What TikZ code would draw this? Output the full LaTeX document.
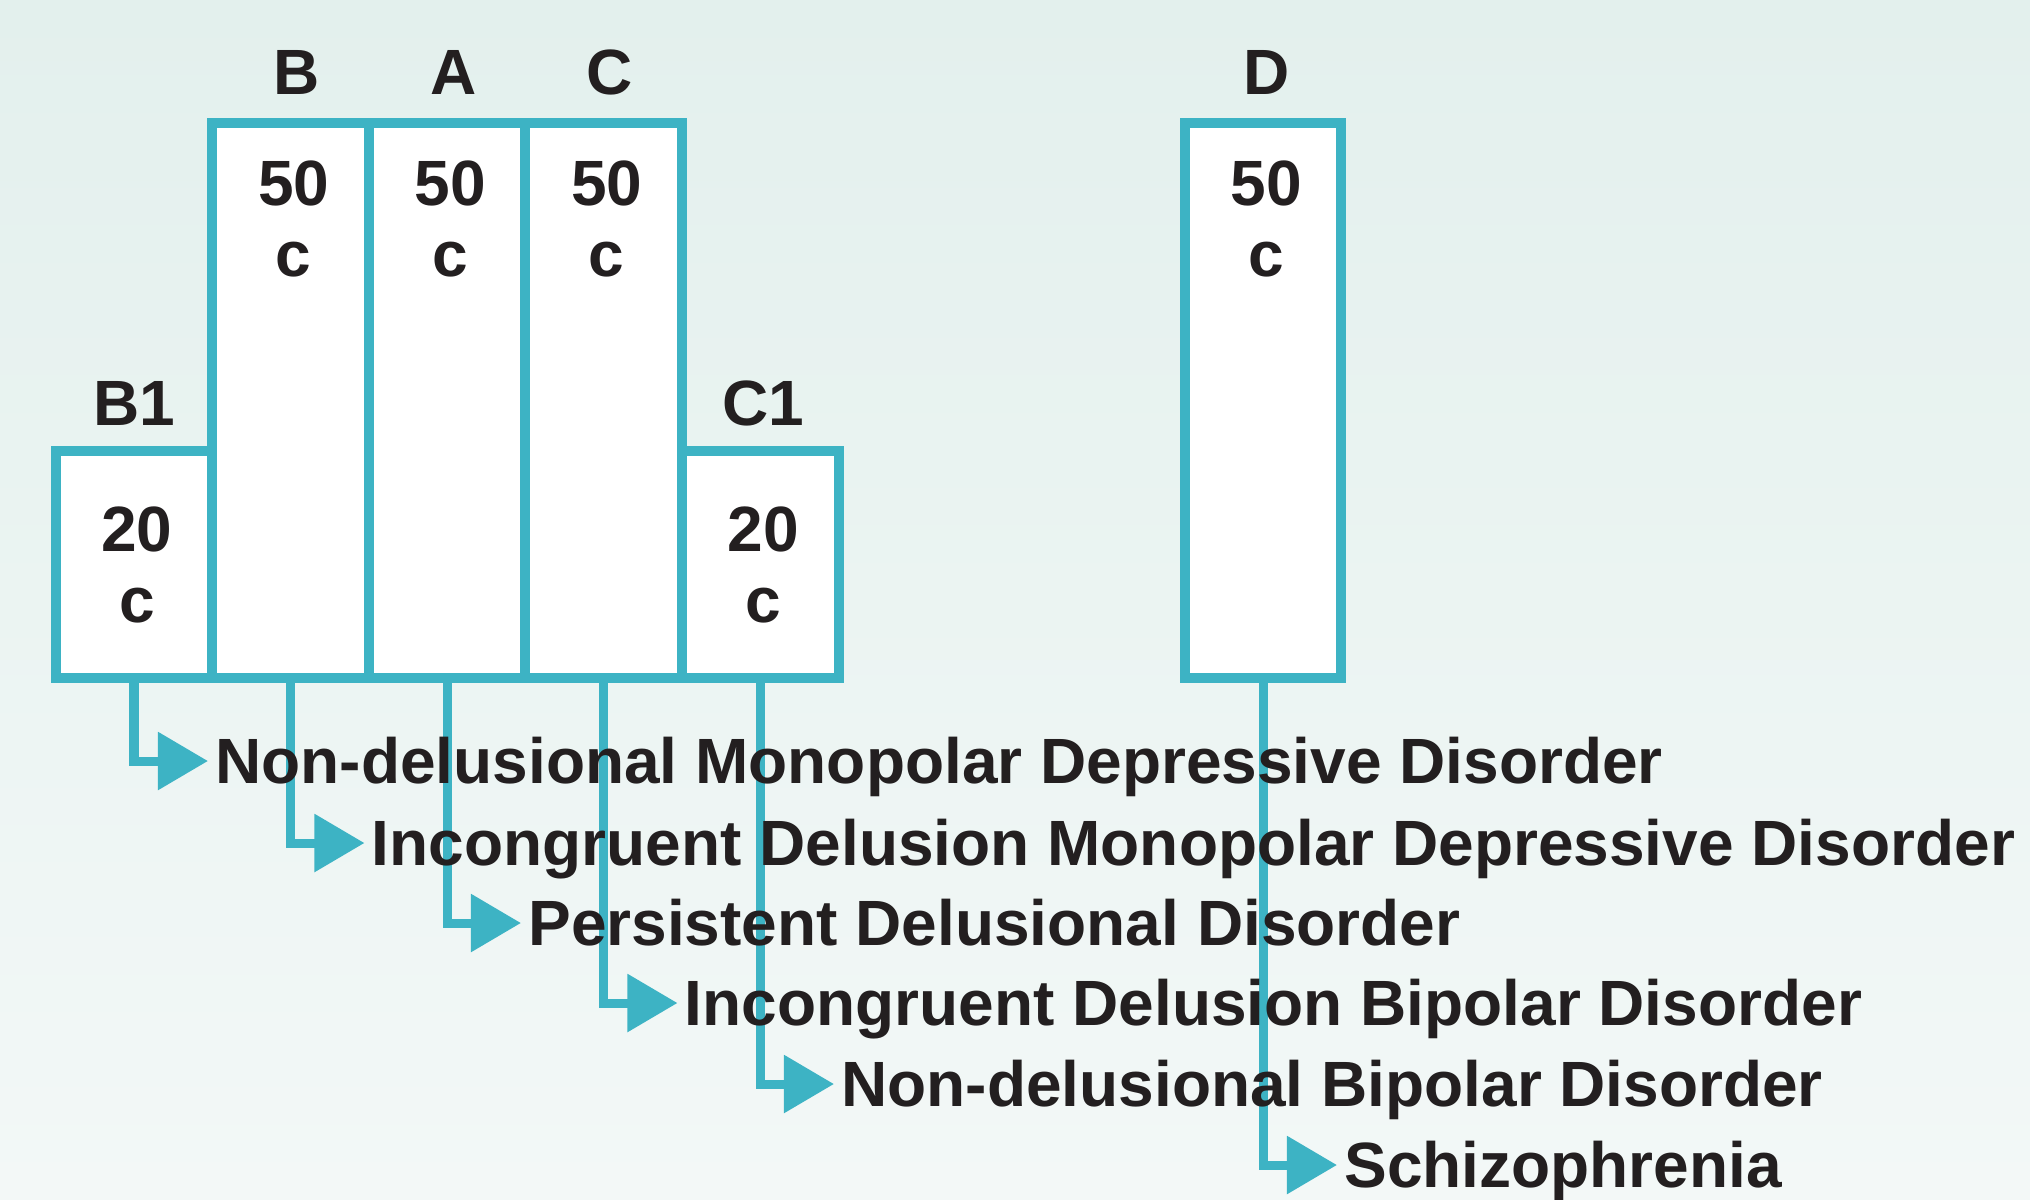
\documentclass[tikz,border=0pt]{standalone}
\usepackage{fontspec}
\setmainfont{Liberation Sans}
\usetikzlibrary{positioning,arrows.meta}
\definecolor{boxline}{HTML}{3DB3C4}
\definecolor{ink}{HTML}{231F20}
\definecolor{bgtop}{HTML}{E3F0ED}
\definecolor{bgbottom}{HTML}{F3F8F7}
\pgfdeclarelayer{bg}
\pgfsetlayers{bg,main}

\begin{document}
\begin{tikzpicture}[x=0.01cm,y=-0.01cm,
  box/.style={draw=boxline,fill=white,line width=0.1cm,inner sep=0pt,outer sep=0pt,minimum width=1.565cm},
  tall/.style={box,minimum height=5.55cm},
  short/.style={box,minimum height=2.27cm},
  head/.style={font=\fontsize{18.2}{20.2}\selectfont\bfseries,text=ink,inner sep=0pt,outer sep=0pt,text depth=0pt},
  count/.style={font=\fontsize{18.2}{20.2}\selectfont\bfseries,text=ink,align=center,inner sep=0pt,outer sep=0pt,xshift=0.03cm},
  disorder/.style={font=\fontsize{18.2}{20.2}\selectfont\bfseries,text=ink,anchor=west,inner xsep=2.1pt,inner ysep=0pt,outer sep=0pt,text height=0.458cm,text depth=0pt},
  feed/.style={draw=boxline,line width=0.09cm,-{Triangle[length=0.5cm,width=0.56cm]}}]
\useasboundingbox (0,0) rectangle (2030,1199);

% columns
\node[short] (b1) at (134,564.5) {};
\node[tall,anchor=south west] (bB) at (b1.south east) {};
\node[tall,anchor=south west] (bA) at (bB.south east) {};
\node[tall,anchor=south west] (bC) at (bA.south east) {};
\node[short,anchor=south west] (c1) at (bC.south east) {};
\node[tall] (bD) at (1263,400.5) {};

% letters on top
\node[head,above=0.28cm of bB,xshift=0.06cm] (hB) {B};
\node[head,above=0.28cm of bA,xshift=0.06cm] (hA) {A};
\node[head,above=0.28cm of bC,xshift=0.06cm] (hC) {C};
\node[head,above=0.28cm of bD,xshift=0.04cm] (hD) {D};
\node[head,above=0.25cm of b1] (hB1) {B1};
\node[head,above=0.25cm of c1,xshift=0.03cm] (hC1) {C1};

% counts
\node[count,below=0.38cm of bB.north] (nB) {50\\c};
\node[count,below=0.38cm of bA.north] (nA) {50\\c};
\node[count,below=0.38cm of bC.north] (nC) {50\\c};
\node[count,below=0.38cm of bD.north] (nD) {50\\c};
\node[count] (nB1) at (b1) {20\\c};
\node[count] (nC1) at (c1) {20\\c};

% outcomes
\node[disorder] (t1) at (208,761) {Non-delusional Monopolar Depressive Disorder};
\node[disorder] (t2) at (364.5,843) {Incongruent Delusion Monopolar Depressive Disorder};
\node[disorder] (t3) at (521,923) {Persistent Delusional Disorder};
\node[disorder] (t4) at (677.5,1003) {Incongruent Delusion Bipolar Disorder};
\node[disorder] (t5) at (834,1084) {Non-delusional Bipolar Disorder};
\node[disorder] (t6) at (1337,1165) {Schizophrenia};

\begin{pgfonlayer}{bg}
\shade[top color=bgtop,bottom color=bgbottom] (0,0) rectangle (2030,1199);
\draw[feed] (b1.south) |- (t1.west);
\draw[feed] (bB.south) |- (t2.west);
\draw[feed] (bA.south) |- (t3.west);
\draw[feed] (bC.south) |- (t4.west);
\draw[feed] (c1.south) |- (t5.west);
\draw[feed] (bD.south) |- (t6.west);
\end{pgfonlayer}
\end{tikzpicture}
\end{document}
